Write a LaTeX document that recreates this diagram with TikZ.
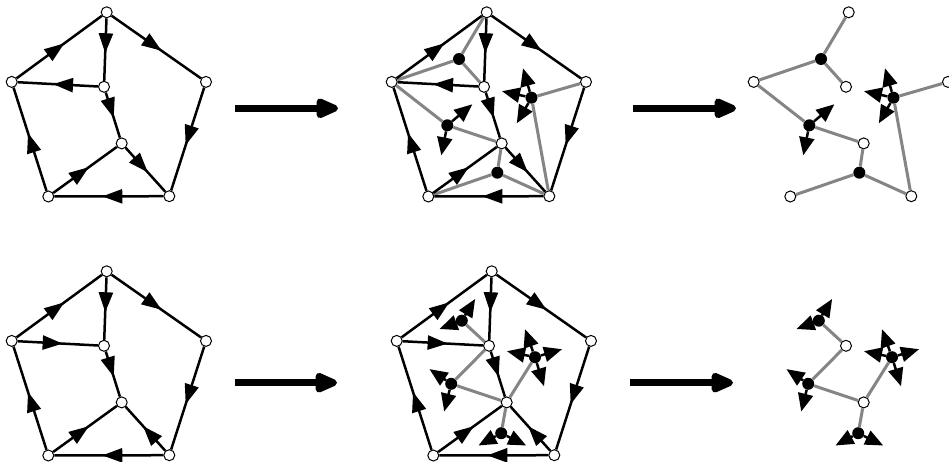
\documentclass[tikz,border=0pt]{standalone}
\usetikzlibrary{arrows.meta,decorations.markings}
\tikzset{
  vtx/.style={circle,draw=black,fill=white,line width=1pt,inner sep=0pt,minimum size=11pt},
  fdot/.style={circle,fill=black,inner sep=0pt,minimum size=12pt},
  dedge/.style={draw=black,line width=2.5pt,postaction={decorate},
    decoration={markings,mark=at position 0.56 with {\arrow{Triangle[length=20pt,width=14pt]}}}},
  gedge/.style={draw=black!48,line width=3pt},
  hedge/.style={draw=black,line width=2.5pt,-{Triangle[length=18pt,width=15pt]}},
  bigarrow/.style={draw=black,line width=6.5pt,-{Triangle[length=27pt,width=21pt,round]}},
}
\newcommand\outerverts{%
  \node[vtx] (T) at (106.7,12.3) {};
  \node[vtx] (L) at (11.7,81.9) {};
  \node[vtx] (R) at (206,81.9) {};
  \node[vtx] (BL) at (48.3,196.5) {};
  \node[vtx] (BR) at (169.3,196.2) {};
}
\newcommand\innerverts{%
  \node[vtx] (a) at (104,86.8) {};
  \node[vtx] (b) at (121.7,143.4) {};
}
\newcommand\halfedges[2]{%
  \foreach \dx/\dy [count=\i] in {#2} {%
    \path (#1) ++(\dx,\dy) coordinate (#1h\i);
    \draw[hedge] (#1) -- (#1h\i);
  }%
}
\newcommand\topblack{%
  \draw[dedge] (L) -- (T);
  \draw[dedge] (T) -- (R);
  \draw[dedge] (T) -- (a);
  \draw[dedge] (a) -- (L);
  \draw[dedge] (a) -- (b);
  \draw[dedge] (R) -- (BR);
  \draw[dedge] (BR) -- (BL);
  \draw[dedge] (BL) -- (L);
  \draw[dedge] (BL) -- (b);
  \draw[dedge] (b) -- (BR);
}
\newcommand\bottomblack{%
  \draw[dedge] (L) -- (T);
  \draw[dedge] (T) -- (R);
  \draw[dedge] (T) -- (a);
  \draw[dedge] (L) -- (a);
  \draw[dedge] (a) -- (b);
  \draw[dedge] (R) -- (BR);
  \draw[dedge] (BR) -- (BL);
  \draw[dedge] (BL) -- (L);
  \draw[dedge] (BL) -- (b);
  \draw[dedge] (BR) -- (b);
}
\newcommand\topdual{%
  \node[fdot] (d1) at (79,59) {};
  \node[fdot] (d2) at (67.3,125.3) {};
  \node[fdot] (d3) at (151.5,97.7) {};
  \node[fdot] (d4) at (117.3,172.7) {};
  \draw[gedge] (d1) -- (T);
  \draw[gedge] (d1) -- (L);
  \draw[gedge] (d1) -- (a);
  \draw[gedge] (d2) -- (L);
  \draw[gedge] (d2) -- (b);
  \draw[gedge] (d3) -- (R);
  \draw[gedge] (d3) -- (BR);
  \draw[gedge] (d4) -- (BL);
  \draw[gedge] (d4) -- (b);
  \draw[gedge] (d4) -- (BR);
  \halfedges{d2}{25/-21,-6/30}
  \halfedges{d3}{-8.5/-29.4,-29.5/-6.5,-14.7/25.6}
}
\newcommand\bottomdual{%
  \node[fdot] (e1) at (76.8,61.7) {};
  \node[fdot] (e2) at (66.2,124.8) {};
  \node[fdot] (e3) at (150,98.2) {};
  \node[fdot] (e4) at (116.2,174.2) {};
  \draw[gedge] (e1) -- (a);
  \draw[gedge] (e2) -- (a);
  \draw[gedge] (e2) -- (b);
  \draw[gedge] (e3) -- (b);
  \draw[gedge] (e4) -- (b);
  \halfedges{e1}{13.3/-21.7,-22.3/8.3}
  \halfedges{e2}{-21.7/-14.7,-7/27.7}
  \halfedges{e3}{-10/-28,-28/-6,27/-8,9/29}
  \halfedges{e4}{-22.7/12.3,25/12.3}
}
\begin{document}
\begin{tikzpicture}[x=1pt,y=-1pt]
\useasboundingbox[fill=white] (0,0) rectangle (949,462);
% top row
\begin{scope}[name prefix=ta-]
  \outerverts\innerverts\topblack
\end{scope}
\begin{scope}[shift={(380,0)},name prefix=tb-]
  \outerverts\innerverts\topdual\topblack
\end{scope}
\begin{scope}[shift={(742,0)},name prefix=tc-]
  \outerverts\innerverts\topdual
\end{scope}
% bottom row
\begin{scope}[shift={(0,259)},name prefix=ba-]
  \outerverts\innerverts\bottomblack
\end{scope}
\begin{scope}[shift={(385,259)},name prefix=bb-]
  \outerverts\innerverts\bottomdual\bottomblack
\end{scope}
\begin{scope}[shift={(742,259)},name prefix=bc-]
  \innerverts\bottomdual
\end{scope}
% big arrows
\coordinate (A1s) at (235,108.3); \coordinate (A1e) at (338,108.3);
\coordinate (A2s) at (633,108.3); \coordinate (A2e) at (736,108.3);
\coordinate (A3s) at (235,382.7); \coordinate (A3e) at (337,382.7);
\coordinate (A4s) at (630,382.7); \coordinate (A4e) at (733,382.7);
\draw[bigarrow] (A1s) -- (A1e);
\draw[bigarrow] (A2s) -- (A2e);
\draw[bigarrow] (A3s) -- (A3e);
\draw[bigarrow] (A4s) -- (A4e);
\end{tikzpicture}
\end{document}
